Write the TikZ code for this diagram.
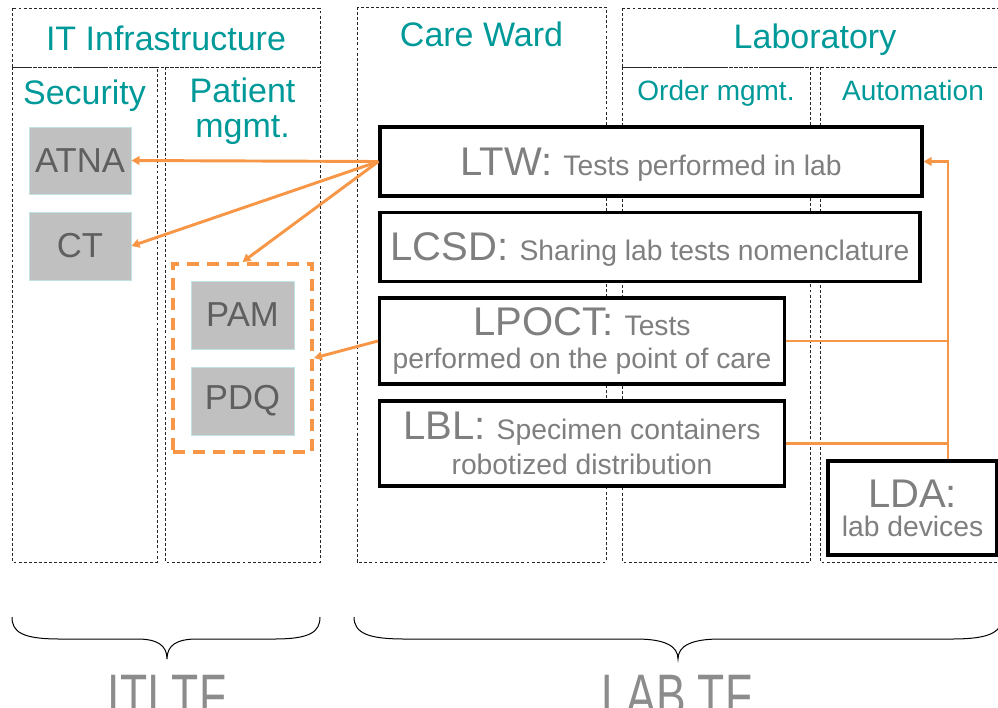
\documentclass[tikz,border=0pt]{standalone}
\usepackage{fontspec}
\setmainfont{Liberation Sans}
\usepackage{graphicx}
\usetikzlibrary{arrows.meta}
\definecolor{tealc}{HTML}{009999}
\definecolor{orgc}{HTML}{F79646}
\definecolor{boxgray}{HTML}{C0C0C0}
\definecolor{boxedge}{HTML}{BFE3E3}
\definecolor{txtgray}{HTML}{7F7F7F}
\definecolor{dkgray}{HTML}{5F5F5F}
\definecolor{tfgray}{HTML}{8C8C8C}
\newcommand\bigp[1]{{\fontsize{30}{30}\selectfont #1}}
\begin{document}
\begin{tikzpicture}[x=0.75pt,y=-0.75pt,
  wh/.style 2 args={minimum width=#1*0.75pt, minimum height=#2*0.75pt},
  frame/.style={draw=black!85, line width=0.75pt, dash pattern=on 2.2pt off 1.6pt},
  head/.style={text=tealc, font=\fontsize{25.5}{26.25}\selectfont, inner sep=0pt, anchor=base},
  sub/.style={text=tealc, font=\fontsize{21}{24}\selectfont, inner sep=0pt, anchor=base},
  actor/.style={draw=boxedge, line width=0.75pt, fill=boxgray, text=dkgray, font=\fontsize{26}{26}\selectfont, inner sep=0pt},
  profile/.style={draw=black, line width=2.4pt, fill=white, text=txtgray, align=center, inner sep=0pt},
  oline/.style={draw=orgc, line width=2.2pt},
  oarrow/.style={oline, -{Triangle[length=6pt,width=6.5pt]}},
  grp/.style={draw=orgc, line width=3pt, dash pattern=on 9pt off 6pt},
  brace/.style={draw=black, line width=0.75pt},
  tf/.style={text=tfgray, font=\fontsize{45}{45}\selectfont, inner sep=0pt, anchor=base}
]
\useasboundingbox (0,0) rectangle (998,707);
\clip (0,0) rectangle (998,707);

% frames
\draw[frame] (12,8) rectangle (320,67);
\draw[frame] (12,67) rectangle (157,562);
\draw[frame] (165,67) rectangle (320,562);
\draw[frame] (357,7) rectangle (606,562);
\draw[frame] (622,8) rectangle (1008,67);
\draw[frame] (622,67) rectangle (810,562);
\draw[frame] (820,67) rectangle (1006,562);

% titles
\node[head] (itt) at (166,50) {IT Infrastructure};
\node[head] (sect) at (84.5,104) {Security};
\node[head, anchor=center, align=center] (patt) at (242.5,111.5) {Patient\\mgmt.};
\node[head] (care) at (481.5,46) {Care Ward};
\node[head] (lab) at (815,48) {Laboratory};
\node[sub] (ord) at (716,100) {Order mgmt.};
\node[sub] (auto) at (913,100) {Automation};

% actors
\node[actor, wh={102}{67}] (atna) at (80,160.5) {ATNA};
\node[actor, wh={102}{68}] (ct) at (80,246) {CT};
\node[grp, wh={139}{188}] (grp) at (242.5,358) {};
\node[actor, wh={103}{68}] (pam) at (242.5,315) {PAM};
\node[actor, wh={103}{68}] (pdq) at (242.5,401) {PDQ};

% profiles
\node[profile, wh={542}{69}, text depth=0pt, font=\fontsize{21.2}{25}\selectfont] (ltw) at (651,161.5) {\bigp{LTW: }Tests performed in lab};
\node[profile, wh={540}{69}, text depth=0pt, font=\fontsize{21.2}{25}\selectfont] (lcsd) at (650,247) {\bigp{LCSD: }Sharing lab tests nomenclature};
\node[profile, wh={405}{86}, font=\fontsize{21.2}{24.75}\selectfont] (lpoct) at (582,341) {\bigp{LPOCT: }Tests\\performed on the point of care};
\node[profile, wh={405}{85}, font=\fontsize{21.2}{26.25}\selectfont] (lbl) at (582,443.5) {\bigp{LBL: }Specimen containers\\robotized distribution};
\node[profile, wh={169}{94}, font=\fontsize{21.2}{21.75}\selectfont] (lda) at (912.5,508) {\bigp{LDA:}\\lab devices};

% connectors
\draw[oarrow] (ltw.west) -- (atna.east);
\draw[oarrow] (ltw.west) -- (ct.east);
\draw[oarrow] (ltw.west) -- (grp.north);
\draw[oarrow] (lpoct.west) -- (grp.east);
\coordinate (bus) at (948,161.5);
\draw[oarrow] (lda.north -| bus) -- (bus) -- (ltw.east);
\draw[oline] (lpoct.east) -- (lpoct.east -| bus);
\draw[oline] (lbl.east) -- (lbl.east -| bus);

% braces
\draw[brace] (12,617) .. controls (12,632) and (22,639) .. (60,639) -- (137,639) .. controls (157,639) and (167,645) .. (167,659) .. controls (167,645) and (177,639) .. (197,639) -- (274,639) .. controls (310,639) and (320,632) .. (320,617);
\draw[brace] (354,617) .. controls (354,634) and (370,639) .. (405,639) -- (636,639) .. controls (665,639) and (678,646) .. (678,659) .. controls (678,646) and (691,639) .. (720,639) -- (951,639) .. controls (986,639) and (1002,634) .. (1002,617);

% bottom labels
\node[tf] (iti) at (167,716) {\scalebox{0.74}[1]{ITI TF}};
\node[tf] (labtf) at (677,716) {\scalebox{0.74}[1]{LAB TF}};
\end{tikzpicture}
\end{document}
